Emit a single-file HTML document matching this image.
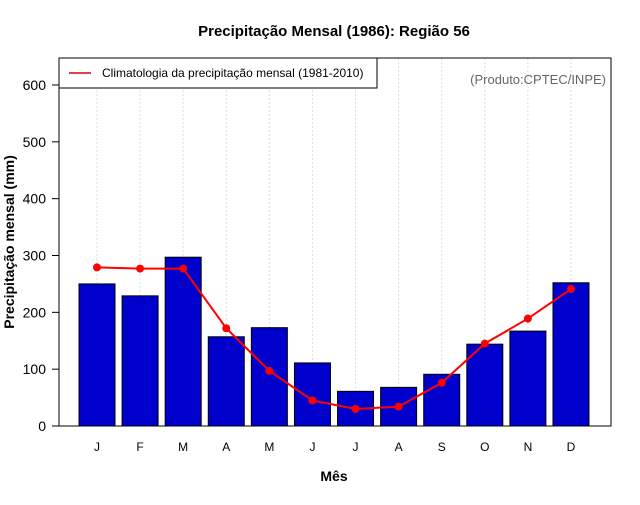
<!DOCTYPE html>
<html><head><meta charset="utf-8"><style>
body{margin:0;background:#fff}
svg text{font-family:"Liberation Sans",sans-serif}
</style></head><body>
<svg id="chart" width="640" height="500" xmlns="http://www.w3.org/2000/svg">
<text x="334" y="36" text-anchor="middle" font-size="15" font-weight="bold">Precipitação Mensal (1986): Região 56</text>
<g id="grid"></g>
<g id="bars"></g>
<g id="line"></g>
<rect x="59" y="58" width="552" height="368" fill="none" stroke="#000" stroke-width="1"/>
<g id="yaxis"></g>
<g id="xaxis"></g>
<text transform="translate(14,242) rotate(-90)" text-anchor="middle" font-size="14" font-weight="bold">Precipitação mensal (mm)</text>
<text x="334" y="481" text-anchor="middle" font-size="14" font-weight="bold">Mês</text>
<g>
<rect x="59" y="58" width="318" height="30" fill="#fff" stroke="#000"/>
<line x1="69" y1="73" x2="91" y2="73" stroke="#e00000" stroke-width="1.5"/>
<text x="102" y="77" font-size="12">Climatologia da precipitação mensal (1981-2010)</text>
</g>
<text x="606" y="84" text-anchor="end" font-size="13" fill="#666">(Produto:CPTEC/INPE)</text>
</svg>
<script>
const months=["J","F","M","A","M","J","J","A","S","O","N","D"];
const precip1986=[250,229,297,157,173,111,61,68,91,144,167,252];
const climatology=[279,277,277,172,97,45,30,34,76,145,189,241];
const yTicks=[0,100,200,300,400,500,600];
const NS="http://www.w3.org/2000/svg";
const x=i=>97+i*43.09;
const y=v=>426-v*(341/600);
function mk(t,a,p){const e=document.createElementNS(NS,t);for(const k in a)e.setAttribute(k,a[k]);p.appendChild(e);return e;}
const grid=document.getElementById('grid'),bars=document.getElementById('bars'),line=document.getElementById('line'),ya=document.getElementById('yaxis'),xa=document.getElementById('xaxis');
months.forEach((m,i)=>{
 const g=mk('line',{x1:x(i),x2:x(i),y1:58,y2:426,stroke:'#ddd','stroke-dasharray':'2,2'},grid);
 
 
 const b=mk('rect',{x:x(i)-18,y:y(precip1986[i]),width:36,height:426-y(precip1986[i]),fill:'#0000cd',stroke:'#000','stroke-width':1},bars);
 
 
 const t=mk('text',{x:x(i),y:451,'text-anchor':'middle','font-size':12},xa);t.textContent=m;
 
 
});
const pts=climatology.map((v,i)=>x(i)+','+y(v)).join(' ');
const pl=mk('polyline',{points:pts,fill:'none',stroke:'#ff0000','stroke-width':2},line);


climatology.forEach((v,i)=>{
 const c=mk('circle',{cx:x(i),cy:y(v),r:4,fill:'#ff0000'},line);
 
 
});
yTicks.forEach(v=>{
 mk('line',{x1:52,x2:59,y1:y(v),y2:y(v),stroke:'#000'},ya);
 const t=mk('text',{x:46,y:y(v)+5,'text-anchor':'end','font-size':14},ya);t.textContent=v;
 
 
});
</script>
</body></html>
